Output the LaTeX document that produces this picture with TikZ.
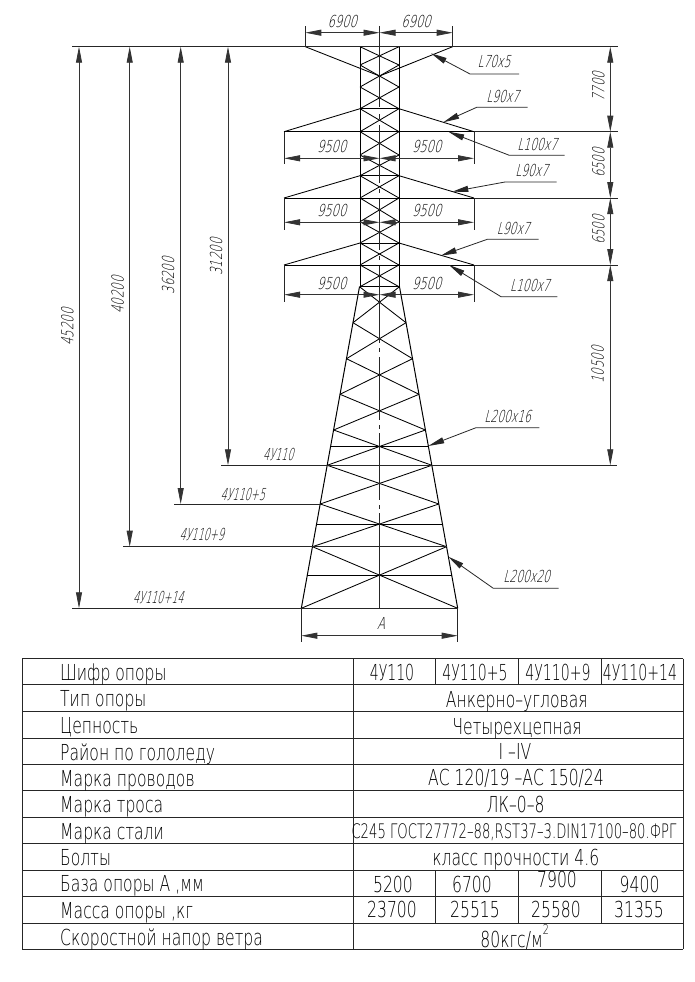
\documentclass[tikz,border=0pt]{standalone}
\usepackage{fontspec}
\setmainfont{DejaVu Sans ExtraLight}[FakeStretch=0.71]
\newfontfamily\slantfont{DejaVu Sans ExtraLight}[FakeStretch=0.70,FakeSlant=0.25]
\newfontfamily\slantnarrow{DejaVu Sans ExtraLight}[FakeStretch=0.58,FakeSlant=0.25]
\newfontfamily\slantmid{DejaVu Sans ExtraLight}[FakeStretch=0.65,FakeSlant=0.25]
\newfontfamily\tablenarrow{DejaVu Sans ExtraLight}[FakeStretch=0.66]
\newfontfamily\tableshort{DejaVu Sans ExtraLight}[FakeStretch=0.64]
\usetikzlibrary{arrows.meta}
\tikzset{
  steelline/.style={line width=0.85pt,black},
  thinline/.style={line width=0.8pt,black!85},
  dimline/.style={line width=0.8pt,black!80,{Triangle[length=16pt,width=6pt]}-{Triangle[length=16pt,width=6pt]}},
  leader/.style={line width=0.8pt,black!85,{Triangle[length=16pt,width=6pt]}-},
  dimtext/.style={font=\slantfont\fontsize{16.5}{16.5}\selectfont,inner sep=0pt},
  labeltext/.style={font=\slantnarrow\fontsize{16.5}{16.5}\selectfont,inner sep=0pt},
  angletext/.style={font=\slantmid\fontsize{16.5}{16.5}\selectfont,inner sep=0pt},
  tabletext/.style={font=\fontsize{22}{22}\selectfont,inner sep=0pt},
  leftcell/.style={tabletext,anchor=base west},
  midcell/.style={tabletext,anchor=base},
  headcell/.style={midcell,font=\tableshort\fontsize{22}{22}\selectfont},
}
\begin{document}
\begin{tikzpicture}[x=1pt,y=-1pt]
\useasboundingbox (0,0) rectangle (694,982);
\fill[white] (0,0) rectangle (694,982);
% ---- mast
\def\xc{379.5}
\draw[steelline,line width=0.95pt] (360,46.7) -- (360,286.7);
\draw[steelline,line width=0.95pt] (399,46.7) -- (399,286.7);
\foreach \i/\y in {0/46.7,1/65,2/87,3/108.7,4/131.7,5/155,6/175.7,7/198,8/221.7,9/243,10/265,11/286.7}{
  \coordinate (ml\i) at (360,\y); \coordinate (mr\i) at (399,\y);
}
\foreach \i [evaluate=\i as \j using int(\i+1)] in {0,...,10}{
  \draw[steelline] (ml\i) -- (mr\j);
  \draw[steelline] (mr\i) -- (ml\j);
}
\foreach \i in {3,6,9,11}{ \draw[steelline] (ml\i) -- (mr\i); }
% ---- crossarms
\coordinate (a1l) at (305.3,46.7); \coordinate (a1r) at (452.7,46.7);
\coordinate (a1c) at (\xc,76);
\draw[steelline] (a1l) -- (a1c); \draw[steelline] (a1r) -- (a1c);
\foreach \n/\yy/\m in {2/131.7/3,3/198/6,4/265/9}{
  \coordinate (a\n l) at (284,\yy); \coordinate (a\n r) at (474,\yy);
  \draw[steelline] (a\n l) -- (ml\m); \draw[steelline] (a\n r) -- (mr\m);
  \draw[steelline] (a\n l) -- (a\n r);
}
% ---- lower tower
\foreach \i/\y/\w in {0/286.7/20,1/322.7/26.5,2/358.7/33,3/394.3/39.5,4/430/45.9,5/465.3/52.3,6/504/59.3,7/546.7/67,8/608.3/78.2}{
  \coordinate (tl\i) at (\xc-\w,\y); \coordinate (tr\i) at (\xc+\w,\y);
}
\draw[steelline,line width=1pt] (tl0) -- (tl8);
\draw[steelline,line width=1pt] (tr0) -- (tr8);
\foreach \i [evaluate=\i as \j using int(\i+1)] in {0,...,7}{
  \draw[steelline] (tl\i) -- (tr\j);
  \draw[steelline] (tr\i) -- (tl\j);
}
\foreach \y/\w in {446.7/49,524.3/63,575.3/72.2}{
  \draw[steelline] (\xc-\w,\y) -- (\xc+\w,\y);
}
% ---- centre line
\foreach \a/\b in {26/107,114/119,125/183,189/193,199/250,256/260,266/343,348/352,357/420,425/429,433/500,505/509,513/608.3}{
  \draw[thinline] (\xc,\a) -- (\xc,\b);
}
% ---- level lines
\draw[thinline,line width=1pt] (72,46.7) -- (618,46.7);
\draw[thinline] (a2r) -- (618,131.7);
\draw[thinline] (a3r) -- (618,198);
\draw[thinline] (a4r) -- (618,265);
\draw[thinline,line width=1pt] (221,465.3) -- (617,465.3);
\draw[thinline] (174,504) -- (tl6);
\draw[thinline,line width=1pt] (123,546.7) -- (tr7);
\draw[thinline,line width=1pt] (72,608.3) -- (tr8);
% ---- left elevation dims
\foreach \x/\y in {79/608.3,129.7/546.7,180.7/504,228/465.3}{
  \draw[dimline] (\x,46.7) -- (\x,\y);
}
\node[dimtext,rotate=90] (d45) at (67.3,327) {45200};
\node[dimtext,rotate=90] (d40) at (117.7,295) {40200};
\node[dimtext,rotate=90] (d36) at (168,275.7) {36200};
\node[dimtext,rotate=90] (d31) at (216,257) {31200};
% ---- right elevation dims
\foreach \a/\b in {46.7/131.7,131.7/198,198/265,265/465.3}{
  \draw[dimline] (610.3,\a) -- (610.3,\b);
}
\node[dimtext,rotate=90] (d77) at (598.3,86.7) {7700};
\node[dimtext,rotate=90] (d65a) at (598.3,163.3) {6500};
\node[dimtext,rotate=90] (d65b) at (598.3,230) {6500};
\node[dimtext,rotate=90] (d105) at (597.7,365) {10500};
% ---- horizontal dims
\draw[thinline] (a1l) -- (305.3,26); \draw[thinline] (a1r) -- (452.7,26);
\draw[dimline] (305.3,32.7) -- (\xc,32.7);
\draw[dimline] (452.7,32.7) -- (\xc,32.7);
\node[dimtext] (w1) at (342.3,21) {6900};
\node[dimtext] (w2) at (416,21) {6900};
\foreach \n/\yd/\ye/\yt in {2/158.3/164/146,3/222.3/229.5/210.7,4/294.7/301.5/283.3}{
  \draw[thinline] (a\n l) -- (284,\ye);
  \draw[thinline] (a\n r) -- (474,\ye);
  \draw[dimline] (284,\yd) -- (\xc,\yd);
  \draw[dimline] (474,\yd) -- (\xc,\yd);
  \node[dimtext] (wl\n) at (331.7,\yt) {9500};
  \node[dimtext] (wr\n) at (426.7,\yt) {9500};
}
\draw[thinline] (tl8) -- (301.3,642); \draw[thinline] (tr8) -- (457.7,642);
\draw[dimline] (301.3,635.7) -- (457.7,635.7);
\node[dimtext] (dA) at (381,623) {A};
% ---- level labels
\node[labeltext] (l0) at (278.3,454.3) {4У110};
\node[labeltext] (l5) at (242.7,494) {4У110+5};
\node[labeltext] (l9) at (201.7,534.3) {4У110+9};
\node[labeltext] (l14) at (158.3,597.3) {4У110+14};
% ---- leaders
\foreach \tx/\ty/\mx/\my/\ex/\lx/\ly/\txt in {
  431/53.3/470/74/519/494/61.7/L70x5,
  443.3/122.3/476.7/107.3/527.7/502.7/96/L90x7,
  448.3/131.7/509.3/155.3/564.7/537.3/144/L100x7,
  452.3/191.7/505/182/556.7/531.7/170.7/L90x7,
  440.7/255.7/487.3/239.3/538.7/513.3/228/L90x7,
  449/265/501/296.7/557.3/530/285.3/L100x7,
  428.3/446/476/427.7/539.3/507.7/416/L200x16,
  448.3/556.7/493.3/588.3/558.7/526.7/576/L200x20}{
  \draw[leader] (\tx,\ty) -- (\mx,\my) -- (\ex,\my);
  \node[angletext] at (\lx,\ly) {\txt};
}
% ---- table
\def\tl{22}
\foreach \y in {658.7,684.7,711.3,738,764.3,790.3,817.3,843.7,870,896.7,923,949.3}{
  \draw[thinline] (\tl,\y) -- (683.3,\y);
}
\draw[thinline] (\tl,658.7) -- (\tl,949.3);
\draw[thinline] (353,658.7) -- (353,949.3);
\draw[thinline] (683.3,658.7) -- (683.3,949.3);
\foreach \x in {435.3,518.3,601}{
  \draw[thinline] (\x,658.7) -- (\x,684.7);
  \draw[thinline] (\x,870) -- (\x,923);
}
\foreach \y/\t in {680/Шифр опоры,706.7/Тип опоры,733/Цепность,760/Район по гололеду,786/Марка проводов,812.7/Марка троса,839/Марка стали,865.7/Болты,891.7/{База опоры А ,мм},918/{Масса опоры ,кг},945/Скоростной напор ветра}{
  \node[leftcell] at (60,\y) {\t};
}
\foreach \x/\t in {392/4У110,475/4У110+5,558/4У110+9,640/4У110+14}{
  \node[headcell] at (\x,680.7) {\t};
}
\node[midcell] (c1) at (516.7,707) {Анкерно–угловая};
\node[midcell] (c2) at (517,734) {Четырехцепная};
\node[midcell] (c3) at (515,759) {I –IV};
\node[midcell] (c4) at (516,785) {АС 120/19 –АС 150/24};
\node[midcell] (c5) at (515.7,812.7) {ЛК–0–8};
\node[midcell,font=\tablenarrow\fontsize{20}{20}\selectfont] (c6) at (514,838.7) {С245 ГОСТ27772–88,RST37–3.DIN17100–80.ФРГ};
\node[midcell] (c7) at (515.7,865.7) {класс прочности 4.6};
\foreach \x/\y/\t in {393/892/5200,472/892/6700,557/887/7900,639.6/892/9400,392/917.7/23700,475/917.7/25515,556/917.7/25580,639/917.7/31355}{
  \node[midcell] at (\x,\y) {\t};
}
\node[midcell] (c8) at (514.7,947.7) {80кгс/м\raisebox{13pt}{\fontsize{13.5}{13.5}\selectfont 2}};
\end{tikzpicture}
\end{document}
